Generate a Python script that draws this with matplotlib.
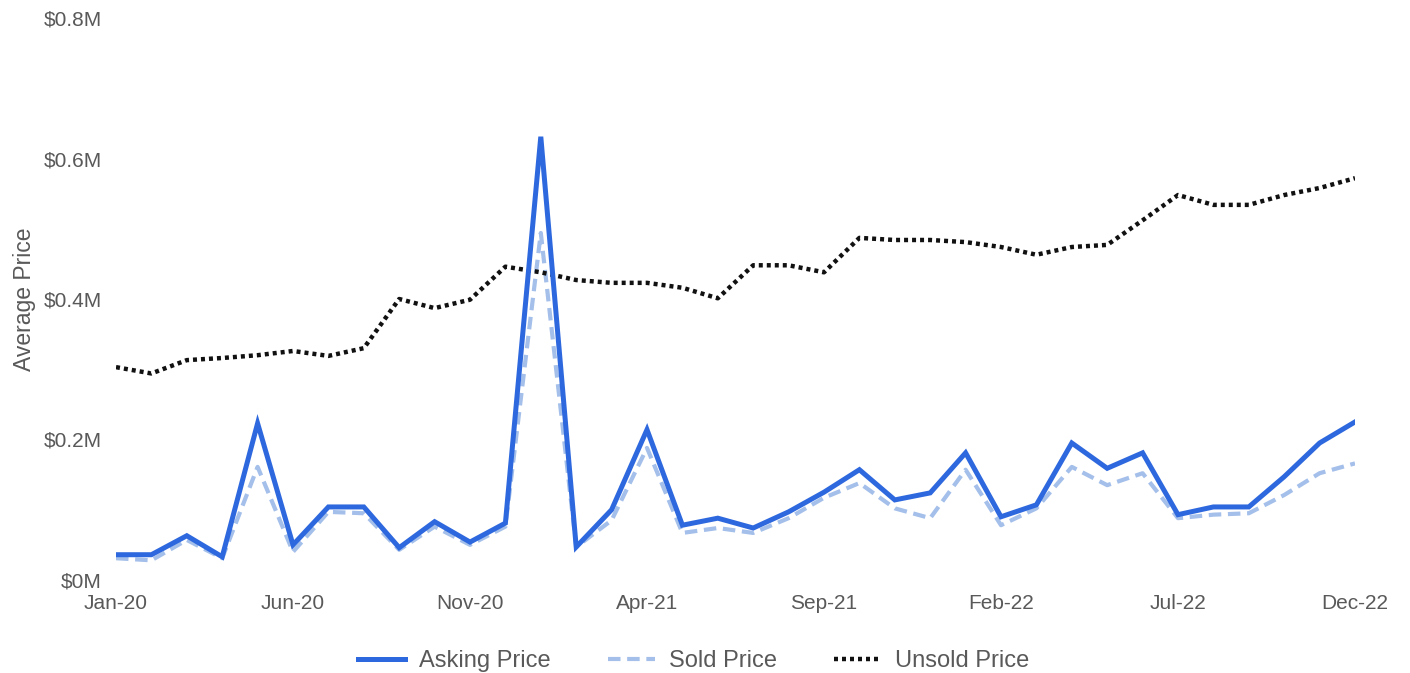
import matplotlib
matplotlib.use("Agg")
import matplotlib.pyplot as plt
from matplotlib.ticker import FuncFormatter, FixedLocator
import numpy as np
import pandas as pd

months = pd.date_range("2020-01-01", "2022-12-01", freq="MS").strftime("%b-%y").tolist()
tick_labels = ["Jan-20", "Jun-20", "Nov-20", "Apr-21", "Sep-21", "Feb-22", "Jul-22", "Dec-22"]

asking_price = [0.036, 0.036, 0.063, 0.033, 0.223, 0.050, 0.104, 0.104, 0.046, 0.083,
                0.054, 0.081, 0.631, 0.047, 0.100, 0.214, 0.078, 0.088, 0.074, 0.097,
                0.125, 0.157, 0.114, 0.124, 0.181, 0.090, 0.107, 0.195, 0.159, 0.181,
                0.093, 0.104, 0.104, 0.147, 0.195, 0.225]
sold_price = [0.031, 0.028, 0.057, 0.031, 0.161, 0.040, 0.097, 0.095, 0.043, 0.076,
              0.050, 0.076, 0.494, 0.047, 0.085, 0.188, 0.067, 0.074, 0.067, 0.088,
              0.117, 0.138, 0.102, 0.088, 0.157, 0.078, 0.102, 0.161, 0.135, 0.152,
              0.088, 0.093, 0.095, 0.121, 0.152, 0.166]
unsold_price = [0.303, 0.294, 0.313, 0.316, 0.320, 0.326, 0.319, 0.330, 0.400, 0.387,
                0.399, 0.446, 0.438, 0.427, 0.423, 0.423, 0.416, 0.401, 0.448, 0.448,
                0.438, 0.487, 0.484, 0.484, 0.481, 0.474, 0.463, 0.474, 0.477, 0.512,
                0.548, 0.534, 0.534, 0.548, 0.558, 0.572]

plt.rcParams['font.family'] = ['Liberation Sans', 'DejaVu Sans']

fig = plt.figure(figsize=(14.1, 6.73), dpi=100)
ax = fig.add_axes([116/1410, 1 - 580/673, (1355 - 116)/1410, (580 - 18)/673])

x = np.arange(len(months))
ax.plot(x, asking_price, color="#2E68DE", lw=3.6, solid_joinstyle="miter", label="Asking Price", zorder=3)
ax.plot(x, sold_price, color="#A3BFEA", lw=3.0, dashes=(3, 1.6), label="Sold Price", zorder=2)
ax.plot(x, unsold_price, color="#111111", lw=3.2, dashes=(0.9, 0.9), label="Unsold Price", zorder=2)

ax.set_xlim(0, len(months) - 1)
ax.set_ylim(0, 0.8)
tick_pos = [months.index(t) for t in tick_labels]
ax.xaxis.set_major_locator(FixedLocator(tick_pos))
ax.set_xticklabels(tick_labels)
ax.set_yticks([0, 0.2, 0.4, 0.6, 0.8])
ax.yaxis.set_major_formatter(FuncFormatter(lambda v, p: "$0M" if v == 0 else f"${v:.1f}M"))

for s in ax.spines.values():
    s.set_visible(False)
ax.tick_params(axis="both", length=0, labelsize=15, colors="#595959")
ax.tick_params(axis="y", pad=10)
ax.tick_params(axis="x", pad=10)
ax.set_ylabel("Average Price", fontsize=16.5, color="#595959", labelpad=6)

leg = fig.legend(loc="center", bbox_to_anchor=(0.492, 0.018), ncol=3, frameon=False,
                 fontsize=17, handlelength=2.0, handletextpad=0.6, columnspacing=2.4)
for t in leg.get_texts():
    t.set_color("#595959")

fig.savefig("out.png", dpi=100, facecolor="white")
